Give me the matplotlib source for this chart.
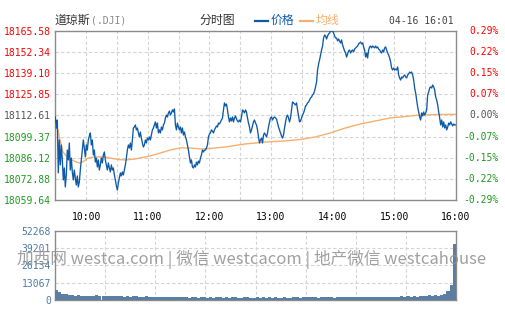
import numpy as np
import matplotlib
matplotlib.use('Agg')
import matplotlib.pyplot as plt
from matplotlib.lines import Line2D
from matplotlib.transforms import blended_transform_factory

# ---------------- data ----------------
prices = [
    18111.6, 18104.7, 18109.7, 18076.6, 18097.2, 18081.6, 18094.1, 18084.7, 18072.2, 18079.7,
    18067.8, 18075.3, 18090.9, 18084.7, 18095.3, 18078.4, 18085.9, 18077.2, 18072.2, 18078.4,
    18073.4, 18069.0, 18074.7, 18067.8, 18070.9, 18078.4, 18084.7, 18090.9, 18097.2, 18092.2,
    18086.6, 18094.1, 18090.9, 18097.2, 18099.7, 18101.6, 18094.1, 18097.2, 18087.8, 18090.9,
    18083.4, 18085.9, 18080.3, 18084.7, 18078.4, 18081.6, 18085.9, 18082.8, 18087.8, 18089.7,
    18084.7, 18081.6, 18078.4, 18082.8, 18079.7, 18077.2, 18081.6, 18078.4, 18079.7, 18075.3,
    18072.2, 18068.4, 18065.9, 18070.3, 18073.4, 18076.6, 18074.7, 18077.2, 18075.3, 18078.4,
    18081.6, 18085.9, 18090.9, 18094.1, 18092.2, 18095.3, 18090.9, 18097.2, 18104.7, 18105.3,
    18106.6, 18103.5, 18104.7, 18101.6, 18099.1, 18102.2, 18098.4, 18095.3, 18092.8, 18094.1,
    18097.2, 18095.3, 18098.4, 18097.2, 18099.1, 18097.2, 18100.3, 18103.5, 18104.7, 18106.6,
    18108.5, 18104.7, 18107.8, 18101.6, 18103.5, 18101.6, 18105.3, 18103.5, 18106.6, 18107.8,
    18111.0, 18112.8, 18111.6, 18114.1, 18115.3, 18112.8, 18114.1, 18116.0, 18114.7, 18116.6,
    18106.6, 18103.5, 18107.8, 18105.3, 18103.5, 18105.3, 18101.6, 18104.7, 18100.3, 18102.2,
    18099.1, 18097.2, 18094.1, 18090.9, 18086.6, 18082.8, 18084.7, 18080.3, 18079.7, 18081.6,
    18080.3, 18083.4, 18081.6, 18084.0, 18082.8, 18085.9, 18087.8, 18090.9, 18089.7, 18090.9,
    18090.9, 18092.2, 18094.1, 18099.1, 18100.9, 18101.6, 18103.5, 18102.8, 18101.6, 18103.5,
    18104.7, 18106.0, 18105.3, 18107.8, 18107.2, 18108.5, 18109.7, 18111.0, 18116.0, 18120.4,
    18118.5, 18119.7, 18116.0, 18111.6, 18108.5, 18111.0, 18109.1, 18111.6, 18108.5, 18111.0,
    18112.2, 18110.3, 18109.1, 18108.5, 18109.7, 18108.5, 18111.6, 18116.0, 18115.3, 18114.1,
    18116.0, 18114.7, 18111.0, 18107.8, 18105.3, 18101.6, 18103.5, 18106.0, 18108.5, 18109.7,
    18107.8, 18106.6, 18103.5, 18099.1, 18095.3, 18097.2, 18098.4, 18095.3, 18100.3, 18101.6,
    18100.3, 18099.1, 18101.6, 18105.3, 18108.5, 18111.0, 18111.6, 18109.7, 18111.0, 18111.6,
    18111.0, 18110.3, 18107.8, 18105.3, 18103.5, 18101.6, 18099.7, 18098.4, 18100.3, 18104.7,
    18108.5, 18111.6, 18112.8, 18111.0, 18108.5, 18111.0, 18116.0, 18121.0, 18120.4, 18119.7,
    18119.1, 18120.4, 18116.0, 18112.2, 18108.5, 18109.1, 18111.0, 18112.8, 18114.1, 18116.0,
    18118.5, 18119.1, 18120.4, 18121.0, 18122.2, 18123.5, 18124.1, 18125.4, 18126.0, 18127.9,
    18130.4, 18133.5, 18141.0, 18144.7, 18147.3, 18150.4, 18153.5, 18156.0, 18161.0, 18162.9,
    18162.3, 18160.4, 18162.3, 18163.5, 18164.1, 18165.4, 18165.4, 18165.4, 18164.1, 18162.3,
    18161.0, 18161.0, 18159.2, 18160.4, 18159.2, 18157.9, 18159.8, 18156.6, 18154.8, 18152.9,
    18151.6, 18149.1, 18151.0, 18152.9, 18153.5, 18151.6, 18152.9, 18153.5, 18152.3, 18154.1,
    18154.8, 18155.4, 18156.0, 18157.3, 18157.9, 18158.5, 18157.3, 18157.9, 18155.4, 18153.5,
    18149.1, 18151.6, 18148.5, 18153.5, 18155.4, 18156.0, 18154.8, 18156.0, 18155.4, 18154.8,
    18156.0, 18154.8, 18155.4, 18154.1, 18153.5, 18152.3, 18151.6, 18153.5, 18152.3, 18154.8,
    18155.4, 18153.5, 18151.6, 18150.4, 18148.5, 18146.0, 18142.2, 18141.0, 18142.2, 18141.0,
    18141.6, 18141.0, 18142.9, 18137.9, 18136.0, 18134.7, 18136.6, 18136.0, 18137.2, 18137.9,
    18136.6, 18136.0, 18137.9, 18138.5, 18139.7, 18139.1, 18139.7, 18137.9, 18134.7, 18129.7,
    18126.6, 18122.2, 18117.8, 18114.7, 18111.6, 18109.7, 18114.1, 18112.2, 18114.7, 18112.8,
    18114.1, 18116.0, 18125.4, 18127.2, 18129.7, 18130.4, 18129.7, 18131.6, 18130.4, 18128.5,
    18124.1, 18122.2, 18119.1, 18114.7, 18111.0, 18106.6, 18109.7, 18105.3, 18108.5, 18104.7,
    18106.6, 18103.5, 18105.3, 18107.8, 18106.6, 18108.5, 18107.2, 18106.0, 18107.2, 18106.6,
    18106.6,
]

avg_minutes = [0, 2.6, 4.6, 7.5, 12.4, 16.3, 20.2, 24.1, 27.9, 31.9, 38.7, 48.5, 53.3, 61.1,
               68, 77.7, 92.3, 102.1, 111.8, 121.6, 131.3, 141.1, 150.8, 165.5, 185, 204.5,
               224, 238.6, 253.2, 267.9, 282.5, 297.1, 311.7, 326.3, 341, 355.6, 375.1, 390]
avg_prices = [18107.2, 18103.5, 18097.2, 18089.7, 18085.9, 18084.7, 18083.4, 18082.8, 18084.0,
              18085.9, 18086.6, 18086.6, 18085.9, 18085.0, 18084.7, 18085.3, 18087.2, 18089.0,
              18090.9, 18092.2, 18092.2, 18091.6, 18091.9, 18092.8, 18094.7, 18095.9, 18096.6,
              18097.5, 18099.1, 18101.6, 18104.7, 18107.2, 18109.1, 18111.0, 18111.9, 18112.8,
              18113.2, 18113.2]

volumes = [
    7600, 5800, 4600, 4200, 3900,
    3400, 3100, 3500, 3000, 3200, 3300, 2900, 3100, 3400, 2900, 2800, 3100, 2900, 3200, 2700, 3000,
    2700, 2600, 2900, 2500, 2800, 3300, 2600, 2400, 2700, 2500, 2300, 2600, 2400, 2200, 2500, 2300,
    2100, 2400, 2200, 2300,
    1900, 2100, 1800, 2000, 2300, 1800, 1900, 2200, 1700, 2000,
    1800, 2100, 1900, 1700, 2000, 1800, 2400, 1900, 1700, 1800,
    2000, 1900, 1700, 1800, 2100, 1800, 1900, 1700, 2000, 1800,
    1900, 1700, 1800, 2200, 1800, 1700, 1900, 2000, 1800, 2600,
    2100, 1900, 2300, 2000, 1800, 2100, 1900, 2200, 2000, 1800,
    2100, 2300, 1900, 2000, 2200, 1900, 2100, 2400, 2000, 1900,
    2200, 2000, 2300, 2100, 1900, 2400, 2200, 2000, 2500, 2100,
    2400, 2700, 2300, 2900, 2600, 3200, 2500, 2800, 3100, 2700, 3400, 2900, 3600, 3100, 3800,
    4800, 6500, 11000, 42000,
]

pre_close = 18112.61
price_levels = [18059.64, 18072.88, 18086.12, 18099.37, 18112.61,
                18125.85, 18139.10, 18152.34, 18165.58]
price_labels = ['18059.64', '18072.88', '18086.12', '18099.37', '18112.61',
                '18125.85', '18139.10', '18152.34', '18165.58']
pct_labels = ['-0.29%', '-0.22%', '-0.15%', '-0.07%', '0.00%',
              '0.07%', '0.15%', '0.22%', '0.29%']
time_ticks = [30, 90, 150, 210, 270, 330, 390]
time_labels = ['10:00', '11:00', '12:00', '13:00', '14:00', '15:00', '16:00']
vol_levels = [0, 13067, 26134, 39201, 52268]
vol_labels = ['0', '13067', '26134', '39201', '52268']

# ---------------- style ----------------
W, H = 505, 330
MONO = 'DejaVu Sans Mono'
CJK = ['Noto Sans CJK SC', 'DejaVu Sans']
BLUE = '#0f5aa8'
ORANGE = '#f5b06e'
RED = '#ff0000'
GREEN = '#1f9a1f'
GRAYTXT = '#555555'
GRID = '#d4d4d4'
SPINE = '#8a8a8a'
VOLC = '#5a7fa2'
VOLTXT = '#4f7aa5'

fig = plt.figure(figsize=(W / 100, H / 100), dpi=100)
fig.patch.set_facecolor('white')


def fx(px):
    return px / W


def fy(py):
    return 1 - py / H


ax = fig.add_axes([fx(55.3), fy(200), fx(455.7) - fx(55.3), fy(30.7) - fy(200)])
axv = fig.add_axes([fx(55.3), fy(300), fx(455.7) - fx(55.3), fy(230.7) - fy(300)])

# ---- main price panel ----
t = np.linspace(0, 390, len(prices))
ax.set_xlim(0, 390)
ax.set_ylim(price_levels[0], price_levels[-1])
for g in range(30, 390, 30):
    ax.axvline(g, color=GRID, lw=0.8, ls=(0, (3, 2)), zorder=1)
for lv in price_levels[1:-1]:
    ax.axhline(lv, color=GRID, lw=0.8, ls=(0, (3, 2)), zorder=1)
ax.plot(avg_minutes, avg_prices, color=ORANGE, lw=1.0, zorder=3)
ax.plot(t, prices, color=BLUE, lw=0.95, zorder=4)

ax.set_yticks(price_levels)
ax.set_yticklabels(price_labels, fontfamily=MONO, fontsize=7)
for lbl, lv in zip(ax.get_yticklabels(), price_levels):
    if lv > pre_close + 0.01:
        lbl.set_color(RED)
    elif lv < pre_close - 0.01:
        lbl.set_color(GREEN)
    else:
        lbl.set_color(GRAYTXT)
ax.set_xticks(time_ticks)
ax.set_xticklabels(time_labels, fontfamily=MONO, fontsize=7, color='black')
ax.tick_params(axis='both', length=0)
ax.tick_params(axis='y', pad=3)
ax.tick_params(axis='x', pad=9)

trans = blended_transform_factory(ax.transAxes, ax.transData)
for lv, s in zip(price_levels, pct_labels):
    c = RED if lv > pre_close + 0.01 else (GREEN if lv < pre_close - 0.01 else GRAYTXT)
    ax.text(1 + 43.3 / 400.4, lv, s, transform=trans, ha='right', va='center',
            fontfamily=MONO, fontsize=7, color=c, clip_on=False)

for sp in ax.spines.values():
    sp.set_color(SPINE)
    sp.set_linewidth(1.0)

# ---- volume panel ----
vx = np.arange(len(volumes)) * (390 / len(volumes))
axv.set_xlim(0, 390)
axv.set_ylim(vol_levels[0], vol_levels[-1])
for k in range(1, 8):
    axv.axvline(390 / 8 * k, color=GRID, lw=0.8, ls=(0, (3, 2)), zorder=1)
for lv in vol_levels[1:-1]:
    axv.axhline(lv, color=GRID, lw=0.8, ls=(0, (3, 2)), zorder=1)
axv.bar(vx, volumes, width=390 / len(volumes), align='edge', color=VOLC, lw=0, zorder=3)
axv.set_yticks(vol_levels)
axv.set_yticklabels(vol_labels, fontfamily=MONO, fontsize=7, color=VOLTXT)
axv.set_xticks([])
axv.tick_params(axis='both', length=0)
axv.tick_params(axis='y', pad=3)
for sp in axv.spines.values():
    sp.set_color(SPINE)
    sp.set_linewidth(1.0)

# ---- header ----
hy = fy(20.5)
fig.text(fx(54.5), hy, '道琼斯', fontfamily=CJK, fontsize=8.6, color='#333333',
         ha='left', va='center')
fig.text(fx(91), hy, '(.DJI)', fontfamily=MONO, fontsize=7, color='#888888',
         ha='left', va='center')
fig.text(fx(199.5), hy, '分时图', fontfamily=CJK, fontsize=8.6, color='#333333',
         ha='left', va='center')
fig.add_artist(Line2D([fx(255), fx(268)], [hy, hy], color=BLUE, lw=1.6,
                      transform=fig.transFigure))
fig.text(fx(271), hy, '价格', fontfamily=CJK, fontsize=8.6, color=BLUE,
         ha='left', va='center')
fig.add_artist(Line2D([fx(300), fx(313)], [hy, hy], color=ORANGE, lw=1.6,
                      transform=fig.transFigure))
fig.text(fx(316), hy, '均线', fontfamily=CJK, fontsize=8.6, color=ORANGE,
         ha='left', va='center')
fig.text(fx(453.5), hy, '04-16 16:01', fontfamily=MONO, fontsize=7, color='#444444',
         ha='right', va='center')

# ---- watermark ----
fig.text(fx(252), fy(259), '加西网 westca.com | 微信 westcacom | 地产微信 westcahouse',
         fontfamily=CJK, fontsize=12, color='#8f8f8f', alpha=0.85,
         ha='center', va='center', zorder=10)

fig.savefig('out.png', dpi=100, facecolor='white')
